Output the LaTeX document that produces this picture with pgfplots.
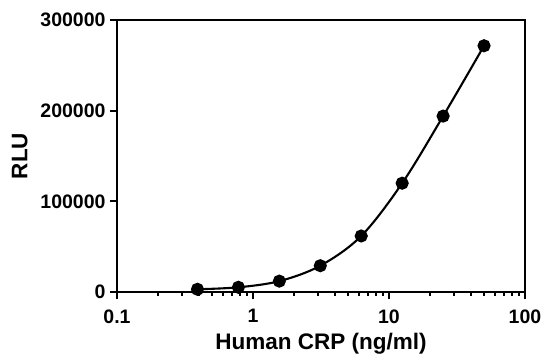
\documentclass[border=0pt]{standalone}
\usepackage{fontspec}
\setmainfont{Liberation Sans}
\usepackage{pgfplots}
\pgfplotsset{compat=1.18}
\begin{document}
\begin{tikzpicture}
\useasboundingbox (-117bp,-64bp) rectangle (426bp,292bp);
\begin{axis}[
  at={(0,0)}, anchor=south west,
  scale only axis,
  width=408bp, height=272bp,
  xmode=log,
  xmin=0.1, xmax=100,
  ymin=0, ymax=300000,
  axis line style={line width=1.8bp},
  every tick/.style={black, line width=1.8bp},
  tick align=outside,
  xtick pos=bottom, ytick pos=left,
  major tick length=7bp,
  minor tick length=4bp,
  xtick={0.1,1,10,100},
  xticklabels={0.1,1,10,100},
  ytick={0,100000,200000,300000},
  yticklabels={0,100000,200000,300000},
  scaled y ticks=false,
  minor ytick={},
  /pgf/number format/assume math mode=true,
  tick label style={font=\fontsize{19.5bp}{21bp}\selectfont\bfseries},
  label style={font=\fontsize{22.5bp}{24bp}\selectfont\bfseries},
  xlabel={Human CRP (ng/ml)},
  ylabel={RLU},
  xticklabel style={yshift=-7bp},
  yticklabel style={xshift=-1bp},
  xlabel style={yshift=-3bp},
  ylabel style={yshift=6bp},
  clip=false,
]
\addplot[black, line width=2.1bp, smooth, tension=0.55, mark=*, mark size=5.5bp, mark options={fill=black}]
coordinates {
(0.390625,3000)
(0.78125,5200)
(1.5625,12000)
(3.125,29000)
(6.25,61800)
(12.5,120000)
(25,194000)
(50,271600)
};
\end{axis}
\end{tikzpicture}
\end{document}
